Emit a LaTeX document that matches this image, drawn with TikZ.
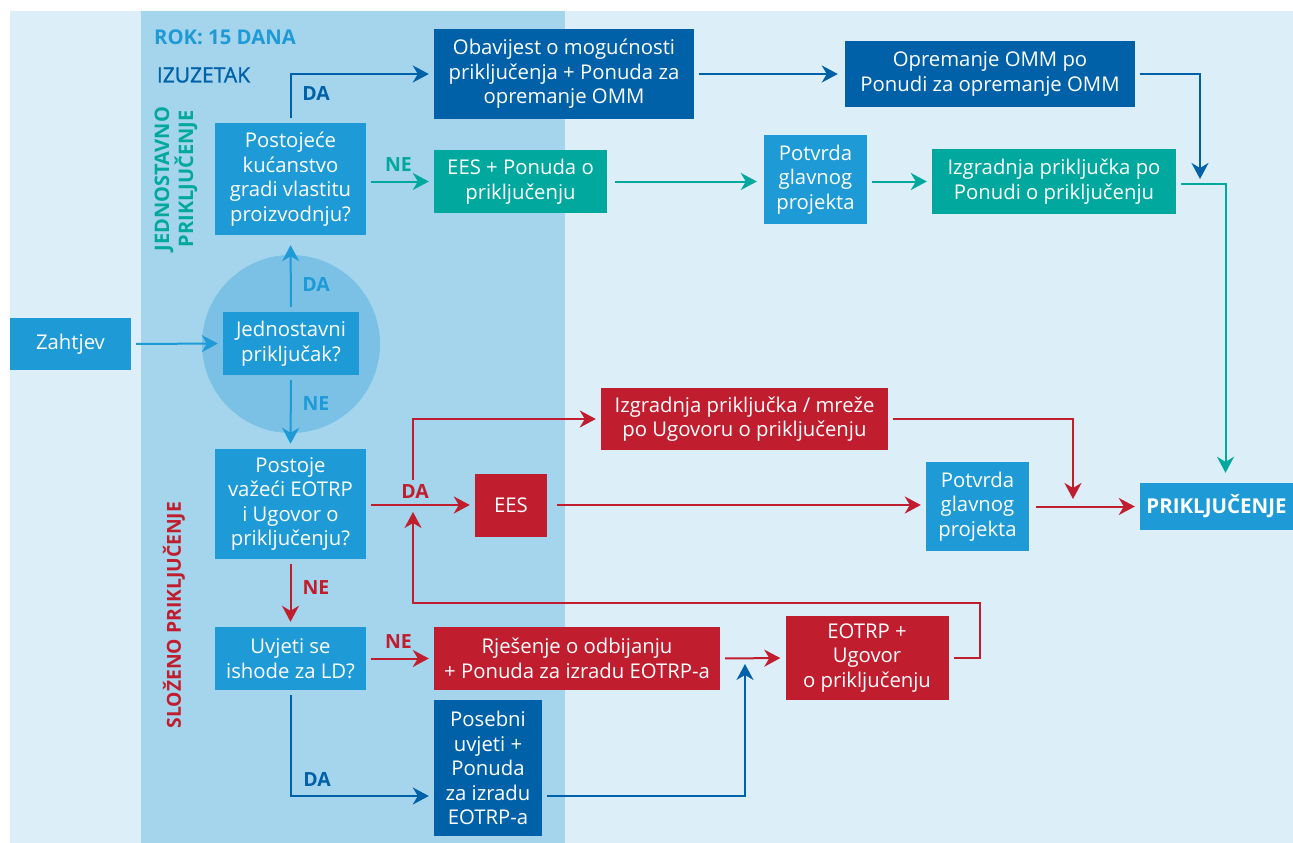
\documentclass[tikz,border=0pt]{standalone}
\usepackage{fontspec}
\setmainfont{Open Sans}
\newfontfamily\semib{Open Sans}[FakeBold=1.3]
\usetikzlibrary{arrows.meta}
\definecolor{bglight}{HTML}{DCEEF8}
\definecolor{bgmid}{HTML}{A4D5EC}
\definecolor{circ}{HTML}{7BC1E6}
\definecolor{midb}{HTML}{1E9AD6}
\definecolor{darkb}{HTML}{0061A9}
\definecolor{teal}{HTML}{00A89D}
\definecolor{redc}{HTML}{C01D2E}
\tikzset{
  box/.style={inner sep=0pt, align=center, text=white, font=\fontsize{20.3}{24.5}\selectfont},
  bxm/.style={box, fill=midb},
  bxd/.style={box, fill=darkb},
  bxt/.style={box, fill=teal},
  bxr/.style={box, fill=redc},
  arr/.style={line width=2pt, -{Stealth[length=16pt,width=17pt,inset=5pt]}, shorten >=5pt, shorten <=5pt},
  lab/.style={font=\fontsize{19.5}{22}\selectfont\bfseries, inner sep=0pt},
}
\begin{document}
\begin{tikzpicture}[x=1pt,y=-1pt]
\useasboundingbox (0,0) rectangle (1293,843);
\fill[white] (0,0) rectangle (1293,843);
\fill[bglight] (10,11) rectangle (1293,843);
\fill[bgmid] (141,11) rectangle (565,843);
\fill[circ] (291,344) circle[radius=89pt];

% headings
\node[font=\fontsize{20.3}{24}\selectfont\bfseries, text=midb, inner sep=0pt] (rok) at (225,37) {ROK: 15 DANA};
\node[font=\fontsize{21}{24}\selectfont\semib, text=darkb, inner sep=0pt] (izu) at (203.5,75) {IZUZETAK};
\node[rotate=90, align=center, font=\fontsize{20}{24}\selectfont\bfseries, text=teal, inner sep=0pt] (jp) at (176,179) {JEDNOSTAVNO\\PRIKLJUČENJE};
\node[rotate=90, font=\fontsize{19.3}{24}\selectfont\bfseries, text=redc, inner sep=0pt] (sp) at (174,615) {SLOŽENO PRIKLJUČENJE};

% nodes
\node[bxm, minimum width=121pt, minimum height=52pt] (zah) at (70.5,344) {Zahtjev};
\node[bxm, minimum width=136pt, minimum height=63pt] (jed) at (291,343.5) {Jednostavni\\priključak?};
\node[bxm, minimum width=151pt, minimum height=112pt] (pos) at (290.5,179) {Postojeće\\kućanstvo\\gradi vlastitu\\proizvodnju?};
\node[bxd, minimum width=260pt, minimum height=90pt] (oba) at (564,74) {Obavijest o mogućnosti\\priključenja + Ponuda za\\opremanje OMM};
\node[bxd, minimum width=290pt, minimum height=66pt] (opr) at (990,74) {Opremanje OMM po\\Ponudi za opremanje OMM};
\node[bxt, minimum width=173pt, minimum height=63pt] (eesp) at (520.5,181.5) {EES + Ponuda o\\priključenju};
\node[bxm, minimum width=103pt, minimum height=89pt] (pot1) at (815.5,179.5) {Potvrda\\glavnog\\projekta};
\node[bxt, minimum width=244pt, minimum height=65pt] (izg1) at (1054,181.5) {Izgradnja priključka po\\Ponudi o priključenju};
\node[bxr, minimum width=287pt, minimum height=62pt] (izg2) at (744.5,419) {Izgradnja priključka / mreže\\po Ugovoru o priključenju};
\node[bxm, minimum width=151pt, minimum height=110pt] (pvz) at (290.5,504) {Postoje\\važeći EOTRP\\i Ugovor o\\priključenju?};
\node[bxr, minimum width=72pt, minimum height=63pt] (ees) at (511,505) {EES};
\node[bxm, minimum width=103pt, minimum height=89pt] (pot2) at (977.5,506.5) {Potvrda\\glavnog\\projekta};
\node[bxm, minimum width=153pt, minimum height=47pt, font=\fontsize{20.5}{24}\selectfont\bfseries] (pri) at (1216.5,506.5) {PRIKLJUČENJE};
\node[bxm, minimum width=151pt, minimum height=63pt] (uvj) at (290.5,658.5) {Uvjeti se\\ishode za LD?};
\node[bxr, minimum width=286pt, minimum height=63pt] (rje) at (577,658.5) {Rješenje o odbijanju\\+ Ponuda za izradu EOTRP-a};
\node[bxd, minimum width=108pt, minimum height=136pt] (pos2) at (488,768) {Posebni\\uvjeti +\\Ponuda\\za izradu\\EOTRP-a};
\node[bxr, minimum width=163pt, minimum height=84pt] (eot) at (867,658) {EOTRP +\\Ugovor\\o priključenju};

% free ends
\coordinate (oprend) at (1200,179);
\coordinate (izgend) at (1073,499);
\coordinate (br) at (413,480);
\coordinate (posend) at (745,664);
\coordinate (eotA) at (980,603);
\coordinate (eotB) at (413,512);

% connectors
\draw[arr, midb] (zah.east) -- (jed.west);
\draw[arr, midb, shorten >=10pt] (jed.north) -- (pos.south);
\draw[arr, midb] (jed.south) -- (pvz.north);
\draw[arr, darkb] (pos.north) |- (oba.west);
\draw[arr, teal] (pos.east |- eesp.west) -- (eesp.west);
\draw[arr, teal, shorten >=7pt, shorten <=8pt] (eesp.east) -- (pot1.west |- eesp.east);
\draw[arr, teal] (pot1.east |- izg1.west) -- (izg1.west);
\draw[arr, teal, shorten >=10pt] ([yshift=-2pt]izg1.east) -| ([xshift=9pt]pri.north);
\draw[arr, darkb, shorten >=7pt] (oba.east) -- (opr.west);
\draw[arr, darkb, shorten >=0pt] (opr.east) -| (oprend);
\draw[arr, redc] (pvz.east |- ees.west) -- (ees.west);
\draw[arr, redc, shorten <=0pt] (br) |- (izg2.west);
\draw[arr, redc, shorten >=0pt] (izg2.east) -| (izgend);
\draw[arr, redc, shorten <=10pt] (ees.east) -- (pot2.west |- ees.east);
\draw[arr, redc, shorten <=7pt] (pot2.east) -- (pri.west);
\draw[arr, redc] (pvz.south) -- (uvj.north);
\draw[arr, redc] (uvj.east) -- (rje.west);
\draw[arr, darkb] (uvj.south) |- ([yshift=-28pt]pos2.west);
\draw[arr, darkb, shorten >=0pt] ([yshift=-28pt]pos2.east) -| (posend);
\draw[arr, redc] (rje.east) -- (eot.west);
\draw[arr, redc, shorten >=0pt] (eot.east) -| (eotA) -| (eotB);

% labels
\node[lab, text=darkb] (l1) at (316,94) {DA};
\node[lab, text=teal] (l2) at (398.5,165) {NE};
\node[lab, text=midb] (l3) at (316,285) {DA};
\node[lab, text=midb] (l4) at (316,404) {NE};
\node[lab, text=redc] (l5) at (415,492) {DA};
\node[lab, text=redc] (l6) at (316,588) {NE};
\node[lab, text=redc] (l7) at (398.5,642) {NE};
\node[lab, text=darkb] (l8) at (317,780) {DA};
\end{tikzpicture}
\end{document}
